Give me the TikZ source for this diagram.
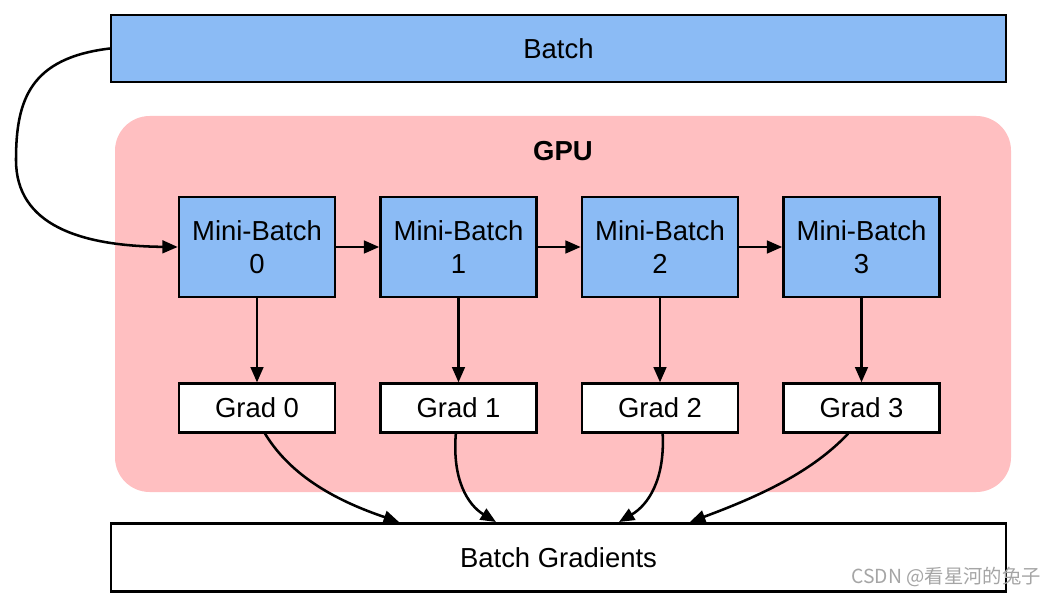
\documentclass[tikz,border=0pt]{standalone}
\usepackage{fontspec}
\setmainfont{Liberation Sans}
\newfontfamily\cjkfont{Noto Sans CJK SC}
\usetikzlibrary{arrows.meta}
\definecolor{boxblue}{RGB}{139,187,245}
\definecolor{gpupink}{RGB}{255,191,193}
\definecolor{wmgray}{RGB}{165,165,165}
\tikzset{
  px/.style={x=0.75pt,y=-0.75pt},
  blockbox/.style={draw=black,line width=1.9pt,fill=boxblue,inner sep=0pt,align=center,
    font=\fontsize{20.6}{24.5}\selectfont},
  gradbox/.style={draw=black,line width=1.9pt,fill=white,inner sep=0pt,
    minimum width=117pt,minimum height=36.5pt,font=\fontsize{20.6}{24}\selectfont},
  minibox/.style={blockbox,minimum width=117pt,minimum height=75pt},
  conn/.style={line width=1.9pt,-{Triangle[length=11.5pt,width=9.5pt]}},
}
\begin{document}
\begin{tikzpicture}[px]
\useasboundingbox (0,0) rectangle (1053,595);
% GPU region
\node[fill=gpupink,rounded corners=26pt,minimum width=672pt,minimum height=282pt,inner sep=0pt] (gpu) at (563,304) {};
\node[font=\fontsize{20.6}{24}\selectfont\bfseries] (gpulabel) at (563,151) {GPU};
% Batch
\node[blockbox,minimum width=671pt,minimum height=50.5pt] (batch) at (558.5,48.5) {Batch};
% Mini batches
\node[minibox] (mb0) at (257,247) {Mini-Batch\\0};
\node[minibox] (mb1) at (458.5,247) {Mini-Batch\\1};
\node[minibox] (mb2) at (660,247) {Mini-Batch\\2};
\node[minibox] (mb3) at (861.5,247) {Mini-Batch\\3};
% Grads
\node[gradbox] (g0) at (257,408) {Grad 0};
\node[gradbox] (g1) at (458.5,408) {Grad 1};
\node[gradbox] (g2) at (660,408) {Grad 2};
\node[gradbox] (g3) at (861.5,408) {Grad 3};
% Batch gradients
\node[gradbox,minimum width=671pt,minimum height=51pt] (bg) at (558.5,557.5) {Batch Gradients};
% watermark
\node[font=\cjkfont\fontsize{14.5}{17}\selectfont,text=wmgray,anchor=east,inner sep=0pt] (wm) at (1041,577) {CSDN @看星河的兔子};
% connectors
\draw[conn] (batch.west) .. controls (30,58) and (16,100) .. (16,160)
  .. controls (16,225) and (80,246) .. (mb0.west);
\draw[conn] (mb0) -- (mb1);
\draw[conn] (mb1) -- (mb2);
\draw[conn] (mb2) -- (mb3);
\draw[conn] (mb0) -- (g0);
\draw[conn] (mb1) -- (g1);
\draw[conn] (mb2) -- (g2);
\draw[conn] (mb3) -- (g3);
\coordinate (e0) at (399,522);
\coordinate (e1) at (496,522);
\coordinate (e2) at (619,522);
\coordinate (e3) at (690,522);
\draw[conn] ([xshift=6pt]g0.south) .. controls (292,478) and (340,502) .. (e0);
\draw[conn] ([xshift=-2pt]g1.south) .. controls (452,480) and (468,505) .. (e1);
\draw[conn] ([xshift=2pt]g2.south) .. controls (665,480) and (648,505) .. (e2);
\draw[conn] ([xshift=-10pt]g3.south) .. controls (812,472) and (760,496) .. (e3);
\end{tikzpicture}
\end{document}
